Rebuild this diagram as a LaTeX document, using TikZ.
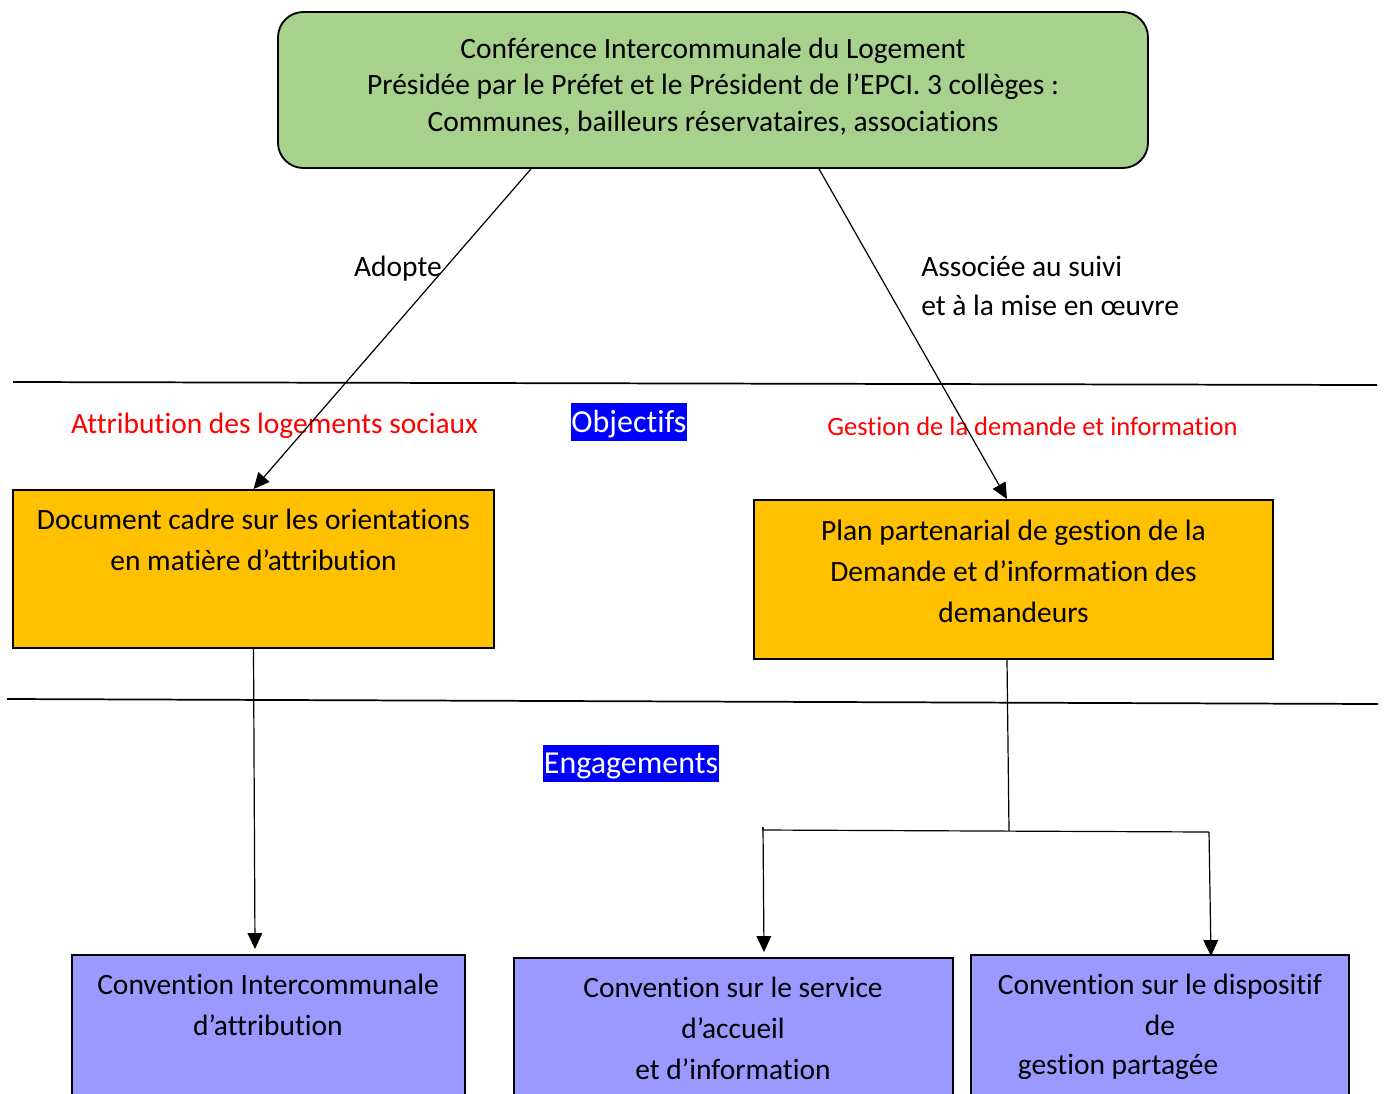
\documentclass[tikz,border=0pt]{standalone}
\usepackage{fontspec}
\setmainfont{Carlito}[RawFeature={-liga;-clig;-calt;-rlig;-dlig}]
\usetikzlibrary{arrows.meta,calc}
\definecolor{cilgreen}{HTML}{A9D18E}
\definecolor{orangebox}{HTML}{FFC000}
\definecolor{bluebox}{HTML}{9999FF}
\definecolor{hlblue}{HTML}{0000FF}
\definecolor{redtxt}{HTML}{FF0000}
\tikzset{
  boxstyle/.style={draw=black, line width=1.4pt, inner sep=0pt},
  txt/.style={align=center, inner sep=0pt, font=\fontsize{22.1}{30.75}\selectfont},
  toptxt/.style={align=center, inner sep=0pt, font=\fontsize{22.1}{27.4}\selectfont},
  hl/.style={fill=hlblue, text=white, inner sep=0pt, font=\fontsize{24}{26}\selectfont},
  conn/.style={line width=0.9pt},
  arr/.style={line width=0.9pt, -{Triangle[width=11pt,length=12pt]}},
  sep/.style={line width=1.3pt}
}
\begin{document}
\begin{tikzpicture}[x=0.75pt,y=-0.75pt]
\useasboundingbox (0,0) rectangle (1384,1093);
\clip (0,0) rectangle (1384,1093);
\fill[white] (0,0) rectangle (1384,1093);

% separators
\draw[sep] (13,382) -- (1377,385);
\draw[sep] (7,699) -- (1378,704);

% boxes
\node[boxstyle, fill=cilgreen, rounded corners=19pt, minimum width=652.5pt, minimum height=117pt] (cil) at (713,90) {};
\node[toptxt] (cilt) at (713,86.5) {Conférence Intercommunale du Logement\\Présidée par le Préfet et le Président de l’EPCI. 3 collèges :\\Communes, bailleurs réservataires, associations};

\node[boxstyle, fill=orangebox, minimum width=360.75pt, minimum height=118.5pt] (doc) at (253.5,569) {};
\node[txt] (doct) at (253.5,540) {Document cadre sur les orientations\\en matière d’attribution};

\node[boxstyle, fill=orangebox, minimum width=389.25pt, minimum height=119.25pt] (plan) at (1013.5,579.5) {};
\node[txt] (plant) at (1013.5,571) {Plan partenarial de gestion de la\\Demande et d’information des\\demandeurs};

\node[boxstyle, fill=bluebox, minimum width=294.75pt, minimum height=123.75pt] (cia) at (268.5,1037.5) {};
\node[txt] (ciat) at (268,1004.5) {Convention Intercommunale\\d’attribution};

\node[boxstyle, fill=bluebox, minimum width=329.25pt, minimum height=121.5pt] (svc) at (733.5,1039) {};
\node[txt] (svct) at (733,1028) {Convention sur le service\\d’accueil\\et d’information};

\node[boxstyle, fill=bluebox, minimum width=283.5pt, minimum height=123.75pt] (gest) at (1160,1037.5) {};
\node[txt] (gestt) at (1160,1004.5) {Convention sur le dispositif\\de};
\node[txt] (gestt2) at (1118,1067) {gestion partagée};

% labels
\node[txt] (adopte) at (398,269) {Adopte};
\node[txt, align=left, anchor=west, font=\fontsize{22.1}{29.25}\selectfont] (assoc) at (921,286) {Associée au suivi\\et à la mise en œuvre};
\node[txt, text=redtxt] (attr) at (274.5,426) {Attribution des logements sociaux};
\node[txt, text=redtxt, font=\fontsize{19.9}{24}\selectfont] (gdem) at (1032.5,426) {Gestion de la demande et information};
\node[hl, minimum width=87pt, minimum height=28.5pt, text depth=5pt, text height=20pt] (obj) at (629,422) {Objectifs};
\node[hl, minimum width=132pt, minimum height=27.75pt, text depth=5pt, text height=20pt] (eng) at (631,763.5) {Engagements};

% connectors
\draw[arr] ($(cil.south)+(-182,0)$) -- (doc.north);
\draw[arr] ($(cil.south)+(106,0)$) -- ($(plan.north)+(-6.5,0)$);
\draw[arr] (doc.south) -- ($(cia.north)+(-13.5,-5)$);
\coordinate (j) at (1009,831);
\coordinate (jl) at (763,830);
\coordinate (jr) at (1209,832);
\draw[conn] ($(plan.south)+(-6.5,0)$) -- (j);
\draw[conn] ($(jl)+(0,-3)$) -- (jl) -- (jr);
\draw[arr] ($(jl)+(0,-3)$) -- ($(svc.north)+(30.5,-5)$);
\draw[arr] (jr) -- ($(gest.north)+(51,2)$);
\end{tikzpicture}
\end{document}
